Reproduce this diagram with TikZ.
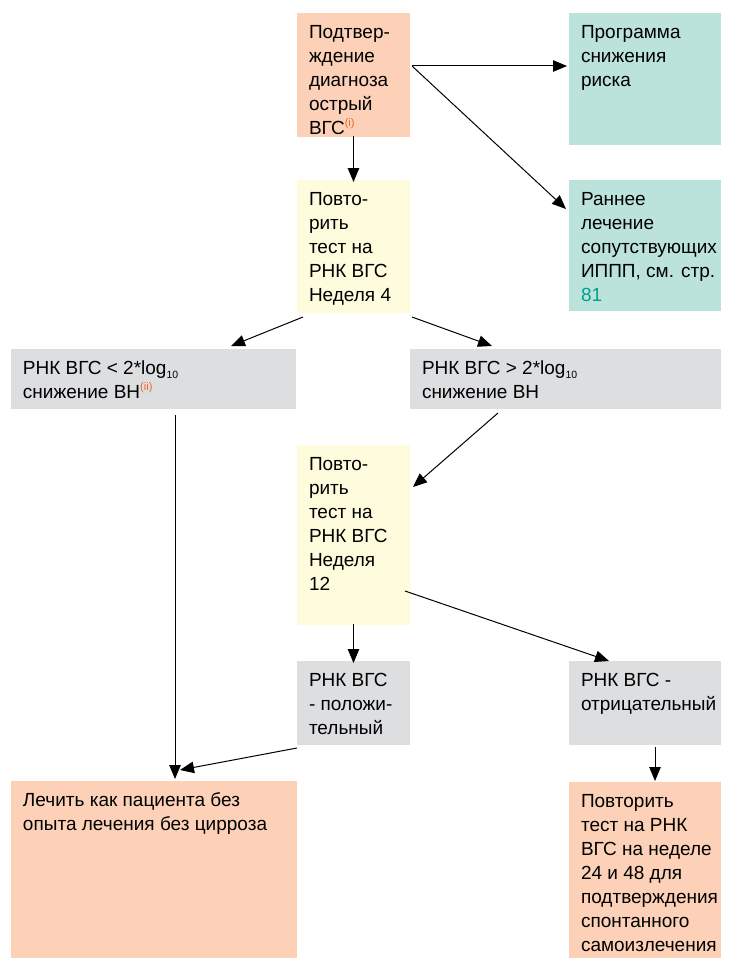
\documentclass[tikz,border=0pt]{standalone}
\usepackage{fontspec}
\setmainfont{Liberation Sans}
\usetikzlibrary{arrows.meta,calc}
\definecolor{salmon}{RGB}{253,209,183}
\definecolor{tealbox}{RGB}{188,227,219}
\definecolor{yellowbox}{RGB}{255,252,222}
\definecolor{graybox}{RGB}{221,222,224}
\definecolor{suporange}{RGB}{240,100,40}
\definecolor{tealtxt}{RGB}{0,160,140}
\newcommand\mysup[1]{\raisebox{8pt}{\fontsize{11}{11}\selectfont\color{suporange}#1}}
\newcommand\mysub[1]{\raisebox{-4pt}{\fontsize{10.5}{10.5}\selectfont #1}}
\tikzset{
  boxshape/.style={anchor=north west, inner sep=0pt, outer sep=0pt, draw=none},
  txt/.style={anchor=base west, inner sep=0pt, outer sep=0pt, align=left},
  arr/.style={line width=1pt, -{Triangle[length=14pt,width=11.5pt]}}
}
\newcommand\mkbox[7]{%
  \node[boxshape, fill=#6, minimum width=#4pt-#2pt, minimum height=#5pt-#3pt] (#1) at (#2,#3) {};
  \node[txt] (#1t) at ([shift={(12,25.5)}]#1.north west)
    {\parbox[t]{300pt}{\fontsize{19}{24}\selectfont #7}};
}
\begin{document}
\begin{tikzpicture}[x=1pt,y=-1pt]
\useasboundingbox (0,0) rectangle (733,958);
\mkbox{A}{297}{13}{410}{137}{salmon}{Подтвер-\\ждение\\диагноза\\острый\\ВГС\mysup{(i)}}
\mkbox{B}{569}{13}{721}{145}{tealbox}{Программа\\снижения\\риска}
\mkbox{C}{569}{180}{721}{311}{tealbox}{Раннее\\лечение\\сопутствующих\\ИППП, см. стр.\\{\color{tealtxt}81}}
\mkbox{D}{297}{180}{410}{313}{yellowbox}{Повто-\\рить\\тест на\\РНК ВГС\\Неделя 4}
\mkbox{E}{11}{349}{296}{409}{graybox}{РНК ВГС < 2*log\mysub{10}\\снижение ВН\mysup{(ii)}}
\mkbox{F}{410}{349}{721}{409}{graybox}{РНК ВГС > 2*log\mysub{10}\\снижение ВН}
\mkbox{G}{297}{445}{410}{625}{yellowbox}{Повто-\\рить\\тест на\\РНК ВГС\\Неделя\\12}
\mkbox{H}{297}{661}{410}{745}{graybox}{РНК ВГС\\- положи-\\тельный}
\mkbox{I}{569}{661}{721}{745}{graybox}{РНК ВГС -\\отрицательный}
\mkbox{J}{11}{781}{297}{958}{salmon}{Лечить как пациента без\\опыта лечения без цирроза}
\mkbox{K}{569}{782}{721}{958}{salmon}{Повторить\\тест на РНК\\ВГС на неделе\\24 и 48 для\\подтверждения\\спонтанного\\самоизлечения}
% connectors
\coordinate (aR) at ([shift={(2,-9)}]A.east);
\draw[arr] (aR) -- ([xshift=-2pt]B.west |- aR);
\draw[arr] (aR) -- ([shift={(-3,29)}]C.north west);
\draw[arr] ([yshift=1pt]A.south) -- ([yshift=-2pt]D.north);
\draw[arr] ([shift={(6,4)}]D.south west) -- ([shift={(-65,-3)}]E.north east);
\draw[arr] ([shift={(2,4)}]D.south east) -- ([shift={(82,-3)}]F.north west);
\draw[arr] ([shift={(88,4)}]F.south west) -- ([shift={(3,42)}]G.north east);
\draw[arr] ([shift={(-5,-34)}]G.south east) -- ([shift={(40,0)}]I.north west);
\draw[arr] ([yshift=1pt]G.south) -- ([yshift=-2pt]H.north);
\draw[arr] ([shift={(164,6)}]E.south west) -- ([shift={(164,-2)}]J.north west);
\draw[arr] ([shift={(0,3)}]H.south west) -- ([shift={(169,-11)}]J.north west);
\draw[arr] ([shift={(86,2)}]I.south west) -- ([shift={(86,-1)}]K.north west);
\end{tikzpicture}
\end{document}
